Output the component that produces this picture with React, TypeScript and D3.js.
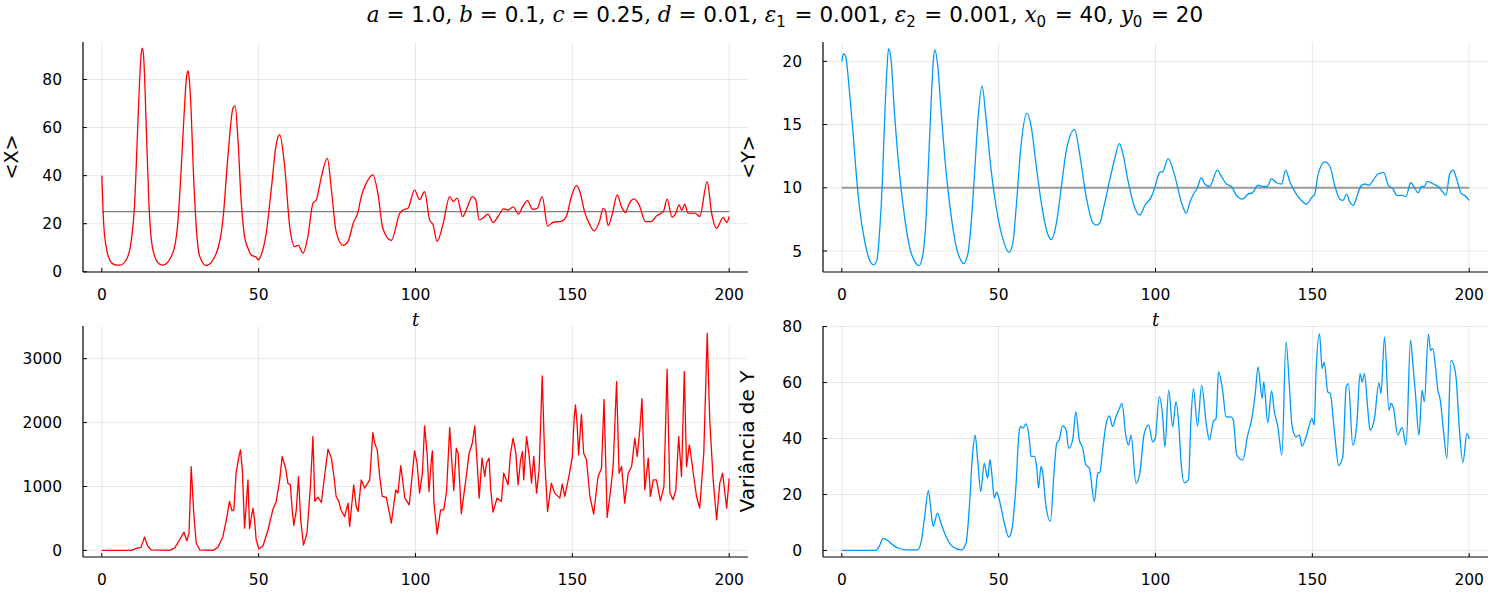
import React from 'react';
import * as d3 from 'd3';

type Pt = [number, number];

const xTicks = [0, 50, 100, 150, 200];
const meanXTicks = [0, 20, 40, 60, 80];
const meanYTicks = [5, 10, 15, 20];
const varXTicks = [0, 1000, 2000, 3000];
const varYTicks = [0, 20, 40, 60, 80];

const eqX = 25;
const eqY = 10;

const meanX: Pt[] = [
  [0, 40], [0.6, 20], [1.5, 9.5], [2.5, 5], [3.5, 3.3], [4.8, 2.8], [5.8, 2.8], [7.8, 5], [9.4, 13], [10.4, 27], [11.5, 62], [12.0, 78], [12.5, 90], [12.9, 93], [13.3, 90], [13.8, 75], [14.3, 55], [15, 29], [16.3, 9], [18.4, 3.2], [19.5, 2.8],
  [22.6, 7.7], [24.2, 20], [25.8, 55], [26.5, 72], [27.1, 82], [27.5, 83.6], [27.9, 80], [28.5, 66], [29, 48], [30.1, 19], [31.2, 6.4], [33.3, 2.6],
  [36.5, 7.7], [38.6, 21.6], [40.2, 48], [41.8, 68], [42.5, 69], [43.4, 55], [44.4, 30], [45.5, 14.7], [46.6, 9.8], [47.6, 7], [49.2, 6], [49.8, 5], [50.8, 7],
  [52.4, 16], [54, 34], [55.6, 53], [56.7, 57], [58.3, 43.7], [59.9, 18.8], [61.5, 10.5], [62.7, 11], [64.1, 7.7], [65.7, 14.7], [67.3, 28.5], [68.4, 30], [70, 39.6], [71.9, 47.2],
  [73.2, 34], [74.7, 16.7], [76.9, 11], [78.5, 12.6], [80.1, 20], [81.7, 25], [82.7, 31.3], [84.3, 36.8], [86.4, 40.3], [88, 32.7], [89.6, 18], [92.3, 13], [95, 24.4],
  [96, 25.7], [97.6, 26.4], [99.7, 34], [101.3, 30], [102.9, 33.3], [104.5, 21.6], [105.6, 19.5], [106.9, 12.6], [108.8, 20], [110.9, 31.3], [112, 29.2], [113.3, 30.6],
  [115, 23], [116.4, 26.4], [118.1, 31.3], [119.2, 30], [120.3, 21.6], [121.5, 22.3], [123.1, 24], [124.7, 20.5], [126.3, 23], [128.1, 26.2], [129.5, 25.7], [131.1, 27],
  [132.9, 24], [134.1, 27], [135.7, 29.6], [137.3, 26], [138.8, 26.4], [140.4, 31.3], [142.1, 19], [143.9, 20.6], [146.5, 21], [148.1, 23], [149.7, 31.3], [151.3, 35.8],
  [152.4, 33.3], [153.9, 25], [155.6, 19.5], [156.9, 17], [158.8, 21.6], [159.8, 26.4], [160.5, 25.5], [161.4, 19.2], [162.8, 24.4], [164.3, 32], [165.7, 27], [167, 24.6],
  [167.8, 27.4], [169.6, 30.3], [171.3, 27.8], [173.3, 20.9], [175.2, 20.9], [176.8, 23.2], [179, 25], [180.2, 30.2], [181.8, 22.7], [183, 24.4], [184, 27.8], [184.9, 25.5],
  [185.8, 28.1], [186.9, 24.4], [189, 24.4], [190.6, 23], [193, 37.5], [194.4, 24.4], [196, 18.1], [198.1, 22.6], [199.2, 20.5], [200, 23],
];

const meanY: Pt[] = [
  [0, 20], [0.5, 20.6], [1.2, 20.4], [2.4, 17.7], [3.5, 14.6], [4.6, 11.1], [5.6, 8.5], [7.2, 5.9], [8.8, 4.3], [10.1, 3.9], [11.2, 4.3], [12, 6.4], [12.9, 10.35],
  [13.8, 16.4], [14.4, 19.5], [14.9, 21], [15.7, 20.1], [16.8, 15.9], [18.4, 11.1], [20, 7.7], [21.6, 5.3], [23.2, 4.2], [24.6, 3.84], [25.6, 4.4], [26.7, 6.9],
  [27.6, 11.7], [28.5, 16.9], [29.1, 19.8], [29.6, 20.9], [30.6, 19.6], [31.7, 15.9], [33.3, 11.1], [34.9, 7.7], [36.5, 5.3], [38.1, 4.2], [38.8, 4.0], [40.2, 4.8],
  [41.3, 7.4], [42.3, 11.1], [43.4, 15.4], [44.7, 18.05], [46, 15.4], [47.6, 11.4], [49.2, 8.5], [51.4, 5.9], [53.3, 4.9], [54.5, 5.6], [55.6, 8.5], [57, 13],
  [59, 15.9], [60.4, 14.8], [62, 11.7], [63.6, 8.8], [65.2, 6.7], [66.8, 5.9], [68.4, 7.2], [70, 10.1], [71.6, 13], [74.2, 14.6], [75.8, 12.7], [77.9, 9.3],
  [80.1, 7.2], [81.1, 7.05], [82.2, 7.2], [83.8, 8.8], [85.4, 10.6], [86.9, 12.2], [88.5, 13.5], [89.6, 12.7], [91.2, 10.6], [93.4, 8.4], [95, 7.85], [96.6, 8.6],
  [98.7, 9.3], [99.7, 9.95], [101.3, 11.2], [102.4, 11.3], [104, 12.3], [106.1, 11], [108.3, 8.8], [109.8, 8], [110.9, 8.8], [112.2, 9.55], [113.2, 9.9], [114.6, 10.8],
  [115.7, 10.3], [117.3, 10.1], [119.7, 11.4], [121, 10.9], [122.6, 10.3], [124.2, 10.1], [125.8, 9.4], [127.7, 9.1], [129.5, 9.5], [130.9, 9.6], [132.7, 10.2],
  [134.3, 10.1], [135.6, 10.1], [137, 10.7], [138.6, 10.4], [140.2, 10.3], [141.5, 11.4], [142.8, 10.5], [144.4, 9.7], [146.5, 9], [148.1, 8.7], [149.7, 9.2],
  [150.8, 9.55], [151.8, 11], [154, 12.05], [155.6, 11.7], [157.2, 10.1], [158.8, 9.1], [159.8, 9], [160.9, 9.5], [161.9, 8.9], [163, 8.6], [164.3, 9.4], [165.4, 10.1],
  [166.7, 10.3], [168.1, 10.2], [169.4, 10.6], [171, 11.1], [172.8, 11.2], [174.2, 10.2], [175.6, 9.95], [177, 9.4], [178.7, 9.4], [179.8, 9.3], [181.4, 10.4],
  [182.7, 9.95], [183.7, 9.6], [184.8, 10.1], [185.7, 10.1], [186.6, 10.5], [188.6, 10.3], [190.1, 10.1], [191.2, 9.8], [192.6, 9.4], [193.8, 11.1], [194.9, 11.4],
  [196, 10.7], [197.6, 9.5], [198.6, 9.4], [200, 9],
];

const varX: Pt[] = [
  [0, 0], [9.4, 0], [11, 31], [12.5, 47], [13.6, 208], [14.7, 62], [15.7, 10], [21.6, 0], [23.2, 36], [24.8, 167], [26.2, 286], [27.1, 151], [27.8, 270], [28.5, 1312],
  [29.3, 583], [30.1, 115], [31.2, 10], [35.4, 0], [37, 47], [38.6, 219], [39.7, 479], [40.7, 766], [41.5, 620], [42.1, 635], [42.8, 1208], [43.7, 1469], [44.2, 1573],
  [44.8, 1260], [45.5, 349], [46, 687], [46.6, 1104], [47.1, 339], [47.7, 531], [48.2, 661], [48.7, 479], [49.2, 167], [50.1, 21], [51.4, 73], [53, 323], [54.5, 635],
  [55.6, 766], [56.7, 1104], [57.5, 1469], [58.6, 1286], [59.3, 1052], [60.1, 1026], [60.7, 635], [61.2, 391], [62, 635], [62.7, 1156], [63.4, 479], [64.3, 83],
  [65.4, 271], [66.5, 1000], [67.3, 1781], [67.9, 766], [68.9, 833], [70, 750], [71, 1156], [72.1, 1583], [73.2, 1443], [74, 1156], [74.7, 844], [75.5, 776], [76.3, 625],
  [77.4, 531], [78.5, 740], [79, 375], [80.3, 1026], [81.1, 687], [81.7, 609], [82.7, 1104], [83.8, 974], [85.4, 1104], [86.4, 1844], [87, 1677], [87.8, 1573],
  [88.6, 1150], [89.4, 844], [90.7, 830], [92.3, 427], [93.7, 948], [94.4, 896], [95.3, 1328], [96.6, 818], [98, 713], [98.7, 1052], [99.7, 1557], [100.5, 1364],
  [101.3, 896], [102.2, 1208], [102.9, 1948], [103.7, 1521], [104.3, 922], [105.1, 1443], [105.4, 1557], [105.9, 740], [106.9, 255], [108, 635], [109, 635], [109.9, 922],
  [110.9, 1922], [111.4, 1521], [112.2, 937], [113, 1599], [113.6, 1521], [114.6, 573], [116, 1088], [117.1, 1521], [118.1, 1677], [118.9, 1948], [119.6, 1417],
  [120.3, 818], [121.2, 1443], [122.1, 1156], [122.6, 1364], [123.5, 1443], [123.9, 1000], [124.7, 599], [126, 818], [127.4, 766], [128.1, 1208], [129.5, 1026],
  [130.3, 1521], [131.1, 1755], [132, 1521], [132.7, 1026], [133.5, 1417], [134.1, 1547], [134.5, 1104], [135.4, 1781], [136.2, 1495], [137, 1052], [137.7, 1469],
  [138.6, 896], [139.4, 1260], [140.4, 2729], [141.2, 1417], [142.1, 609], [143.3, 1052], [144.4, 896], [146, 818], [146.8, 1036], [147.6, 844], [149, 1182],
  [150, 1469], [150.6, 2094], [151, 2276], [151.5, 1989], [152, 1495], [152.9, 2130], [153.6, 1521], [154.5, 1417], [155.6, 844], [156.8, 568], [158.2, 1156],
  [159.3, 1286], [160.1, 2364], [161.1, 516], [162.2, 948], [163, 1312], [164.1, 2640], [164.9, 1208], [165.7, 1312], [166.7, 740], [167.8, 1208], [168.9, 1312],
  [169.9, 1755], [170.7, 1469], [171.5, 1885], [172.2, 2375], [173.1, 948], [174.2, 1443], [174.9, 844], [175.8, 1104], [176.8, 1104], [178.1, 776], [179.2, 1000],
  [180.2, 2833], [181.1, 896], [182.1, 792], [183, 948], [183.9, 1781], [184.8, 1156], [185.7, 2797], [186.4, 1312], [187.3, 1651], [188, 1417], [188.7, 1156],
  [189.6, 844], [190.6, 661], [191.9, 1521], [193, 3396], [193.8, 2042], [194.9, 1104], [196, 479], [197, 1052], [197.9, 1208], [199.2, 661], [200, 1130],
];

const varY: Pt[] = [
  [0, 0], [10.8, 0], [11.9, 1.4], [13.2, 4.3], [14.6, 3.6], [16.2, 2], [18.3, 0.7], [20.4, 0.2], [24.1, 0.2], [25.2, 2.6], [26.3, 11], [27.6, 21.4], [28.4, 14.5],
  [29.1, 8.6], [30.5, 13.3], [31.6, 9.8], [33.2, 5], [35.3, 1.4], [38, 0.2], [39.6, 2.6], [40.6, 14.5], [41.7, 34.8], [42.5, 41.2], [43.3, 32.4], [44.3, 21],
  [45.4, 31.2], [45.9, 28.8], [46.5, 25.8], [47.2, 32.4], [47.8, 27.6], [48.6, 18.7], [49.3, 20.8], [50.2, 18.1], [51.8, 9.8], [53.2, 4.8], [54.2, 7.4], [55.5, 22.9],
  [56.6, 43.1], [57.1, 44.3], [57.8, 43.7], [58.7, 45.2], [59.8, 39.5], [60.3, 33.6], [61.4, 33.6], [62.1, 30], [62.7, 22.3], [63.5, 30], [64, 28.2], [65.1, 15.7],
  [66.5, 10.4], [67.7, 28.8], [68.5, 38.3], [69.3, 39.5], [70.4, 44.5], [71.5, 43.1], [72.3, 36.5], [73.6, 39.5], [74.6, 49.6], [75.7, 39.5], [76.8, 36.5], [77.8, 30.6],
  [78.9, 29.4], [80.5, 17.5], [81.6, 27.6], [82.3, 28], [83.1, 35.4], [84.2, 44.9], [85.3, 48.1], [86.3, 44.3], [87.4, 47.9], [88.5, 50.7], [89.3, 52.5], [90.6, 40.6],
  [91.4, 37.6], [92.2, 41.2], [93.8, 24], [95, 27.6], [96.4, 41.8], [97.8, 44.8], [99.1, 38.8], [99.9, 40], [101.2, 54.9], [102.3, 47.7], [103, 37], [104.2, 57.2],
  [105.5, 44.2], [106.5, 53.1], [107.4, 45.4], [108.1, 32.3], [109.2, 24.2], [110.5, 25.2], [111.3, 46.6], [112.1, 57.8], [113.4, 44.4], [114.7, 59], [116.3, 44.2],
  [117.2, 39.4], [118.4, 46], [119.3, 47.1], [120.1, 63.8], [121.4, 57.2], [122.5, 47.7], [124.1, 47.7], [124.8, 46.6], [125.9, 34.1], [127.8, 32.3], [129.4, 41.2],
  [130.8, 47.7], [131.8, 56.1], [132.7, 65.6], [134, 54.3], [134.5, 60.2], [135.8, 45.6], [137, 57], [137.9, 49.5], [139, 44.2], [140.3, 34.1], [141.6, 74.5],
  [142.7, 58.4], [143.5, 44.8], [144.8, 40.6], [145.9, 41.2], [146.7, 37.3], [148, 40.6], [148.9, 44.2], [149.9, 47.1], [150.6, 44.8], [151.2, 64.4], [152.3, 77.4],
  [153.1, 65], [153.8, 67.3], [154.9, 56.7], [155.7, 56.1], [157, 43], [158.4, 30.3], [159.7, 33.5], [160.8, 58.4], [161.5, 59.6], [162.9, 37.6], [164.2, 45.4],
  [165.2, 63.2], [165.9, 60.2], [166.6, 63.2], [167.7, 50.1], [168.4, 43], [169.8, 47.1], [171.2, 59.9], [171.9, 56.1], [173, 76.2], [174.4, 50.1], [175.1, 52.5],
  [175.9, 50.7], [177.2, 41.2], [178.6, 43.9], [179.9, 37.6], [181.3, 75.1], [182, 67.3], [182.9, 55.5], [184, 41.2], [185, 57.2], [185.7, 53.1], [187, 77.2],
  [187.7, 71.5], [188.4, 72.1], [189.3, 65], [190, 57.2], [190.7, 54.3], [191.8, 43], [192.9, 32.9], [194.2, 67.9], [195.1, 66.2], [195.8, 62], [196.9, 43],
  [198, 31.4], [199.3, 41.8], [200, 40],
];

const RED = '#ff0000';
const BLUE = '#009af9';
const TICK_FONT = 'DejaVu Sans, sans-serif';

interface PanelProps {
  left: number; top: number; right: number; bottom: number;
  yDomain: [number, number];
  yTicks: number[];
  data: Pt[];
  color: string;
  curve: d3.CurveFactory;
  hline?: number;
  hlineColor?: string;
  hlineWidth?: number;
  ylabel?: string;
  ylabelX?: number;
  ylabelSize?: number;
  xlabel?: string;
}

function Panel(p: PanelProps) {
  const x = d3.scaleLinear().domain([-6, 206]).range([p.left, p.right]);
  const y = d3.scaleLinear().domain(p.yDomain).range([p.bottom, p.top]);
  const line = d3.line<Pt>().x((d) => x(d[0])).y((d) => y(d[1])).curve(p.curve);
  const cy = (p.top + p.bottom) / 2;
  return (
    <g>
      {xTicks.map((t) => (
        <line key={'gx' + t} x1={x(t)} x2={x(t)} y1={p.top} y2={p.bottom} stroke="#000" strokeOpacity={0.09} strokeWidth={1} />
      ))}
      {p.yTicks.map((t) => (
        <line key={'gy' + t} x1={p.left} x2={p.right} y1={y(t)} y2={y(t)} stroke="#000" strokeOpacity={0.09} strokeWidth={1} />
      ))}
      {p.hline !== undefined && (
        <line x1={x(0)} x2={x(200)} y1={y(p.hline)} y2={y(p.hline)} stroke={p.hlineColor} strokeWidth={p.hlineWidth} />
      )}
      <path d={line(p.data) || ''} fill="none" stroke={p.color} strokeWidth={1.3} strokeLinejoin="round" />
      <line x1={p.left} x2={p.left} y1={p.top} y2={p.bottom} stroke="#000" strokeWidth={1.2} />
      <line x1={p.left} x2={p.right} y1={p.bottom} y2={p.bottom} stroke="#000" strokeWidth={1.2} />
      {xTicks.map((t) => (
        <g key={'tx' + t}>
          <line x1={x(t)} x2={x(t)} y1={p.bottom} y2={p.bottom - 4} stroke="#000" strokeWidth={1} />
          <text x={x(t)} y={p.bottom + 28} textAnchor="middle" fontFamily={TICK_FONT} fontSize={15.5} fill="#000">{t}</text>
        </g>
      ))}
      {p.yTicks.map((t) => (
        <g key={'ty' + t}>
          <line x1={p.left} x2={p.left + 4} y1={y(t)} y2={y(t)} stroke="#000" strokeWidth={1} />
          <text x={p.left - 21} y={y(t)} dy="0.36em" textAnchor="end" fontFamily={TICK_FONT} fontSize={15.5} fill="#000">{t}</text>
        </g>
      ))}
      {p.ylabel && (
        <text transform={`translate(${p.ylabelX},${cy}) rotate(-90)`} textAnchor="middle" dy="0.36em" fontFamily={TICK_FONT} fontSize={p.ylabelSize ?? 20} fill="#000">{p.ylabel}</text>
      )}
      {p.xlabel && (
        <text x={(p.left + p.right) / 2} y={p.bottom + 54} textAnchor="middle" fontFamily="DejaVu Serif, serif" fontStyle="italic" fontSize={18} fill="#000">{p.xlabel}</text>
      )}
    </g>
  );
}

type TitlePart = { v?: string; sub?: string; o?: string; n?: string };
const titleParts: TitlePart[] = [
  { v: 'a' }, { o: ' = ' }, { n: '1.0' }, { o: ', ' },
  { v: 'b' }, { o: ' = ' }, { n: '0.1' }, { o: ', ' },
  { v: 'c' }, { o: ' = ' }, { n: '0.25' }, { o: ', ' },
  { v: 'd' }, { o: ' = ' }, { n: '0.01' }, { o: ', ' },
  { v: 'ε', sub: '1' }, { o: ' = ' }, { n: '0.001' }, { o: ', ' },
  { v: 'ε', sub: '2' }, { o: ' = ' }, { n: '0.001' }, { o: ', ' },
  { v: 'x', sub: '0' }, { o: ' = ' }, { n: '40' }, { o: ', ' },
  { v: 'y', sub: '0' }, { o: ' = ' }, { n: '20' },
];

function Title() {
  const spans: JSX.Element[] = [];
  let k = 0;
  for (const p of titleParts) {
    if (p.v) {
      spans.push(<tspan key={k++} fontFamily="DejaVu Serif, serif" fontStyle="italic">{p.v}</tspan>);
      if (p.sub) {
        spans.push(<tspan key={k++} fontFamily="DejaVu Sans, sans-serif" fontSize={15} dy={5}>{p.sub}</tspan>);
        spans.push(<tspan key={k++} dy={-5}>{'\u200A'}</tspan>);
      }
    } else if (p.o) {
      spans.push(<tspan key={k++} fontFamily="DejaVu Serif, serif">{p.o}</tspan>);
    } else if (p.n) {
      spans.push(<tspan key={k++} fontFamily="DejaVu Sans, sans-serif">{p.n}</tspan>);
    }
  }
  return (
    <text x={785} y={22} textAnchor="middle" fontSize={21.5} fill="#000" style={{ whiteSpace: 'pre' }}>{spans}</text>
  );
}

export default function App() {
  return (
    <svg width={1500} height={600} style={{ position: 'absolute', left: 0, top: 0, background: '#fff' }}>
      <rect x={0} y={0} width={1500} height={600} fill="#fff" />
      <Title />
      <Panel left={83} top={42} right={748} bottom={272} yDomain={[-0.1, 95.6]} yTicks={meanXTicks}
        data={meanX} color={RED} curve={d3.curveMonotoneX} hline={eqX} hlineColor="#7f7f7f" hlineWidth={1.2}
        ylabel="<X>" ylabelX={11} ylabelSize={19} xlabel="t" />
      <Panel left={823} top={42} right={1488} bottom={272} yDomain={[3.34, 21.53]} yTicks={meanYTicks}
        data={meanY} color={BLUE} curve={d3.curveMonotoneX} hline={eqY} hlineColor="#9a9a9a" hlineWidth={2}
        ylabel="<Y>" ylabelX={748} ylabelSize={19} xlabel="t" />
      <Panel left={83} top={326} right={748} bottom={557} yDomain={[-103, 3511]} yTicks={varXTicks}
        data={varX} color={RED} curve={d3.curveLinear} />
      <Panel left={823} top={326} right={1488} bottom={557} yDomain={[-2.34, 80.2]} yTicks={varYTicks}
        data={varY} color={BLUE} curve={d3.curveMonotoneX}
        ylabel="Variância de Y" ylabelX={747} />
    </svg>
  );
}
